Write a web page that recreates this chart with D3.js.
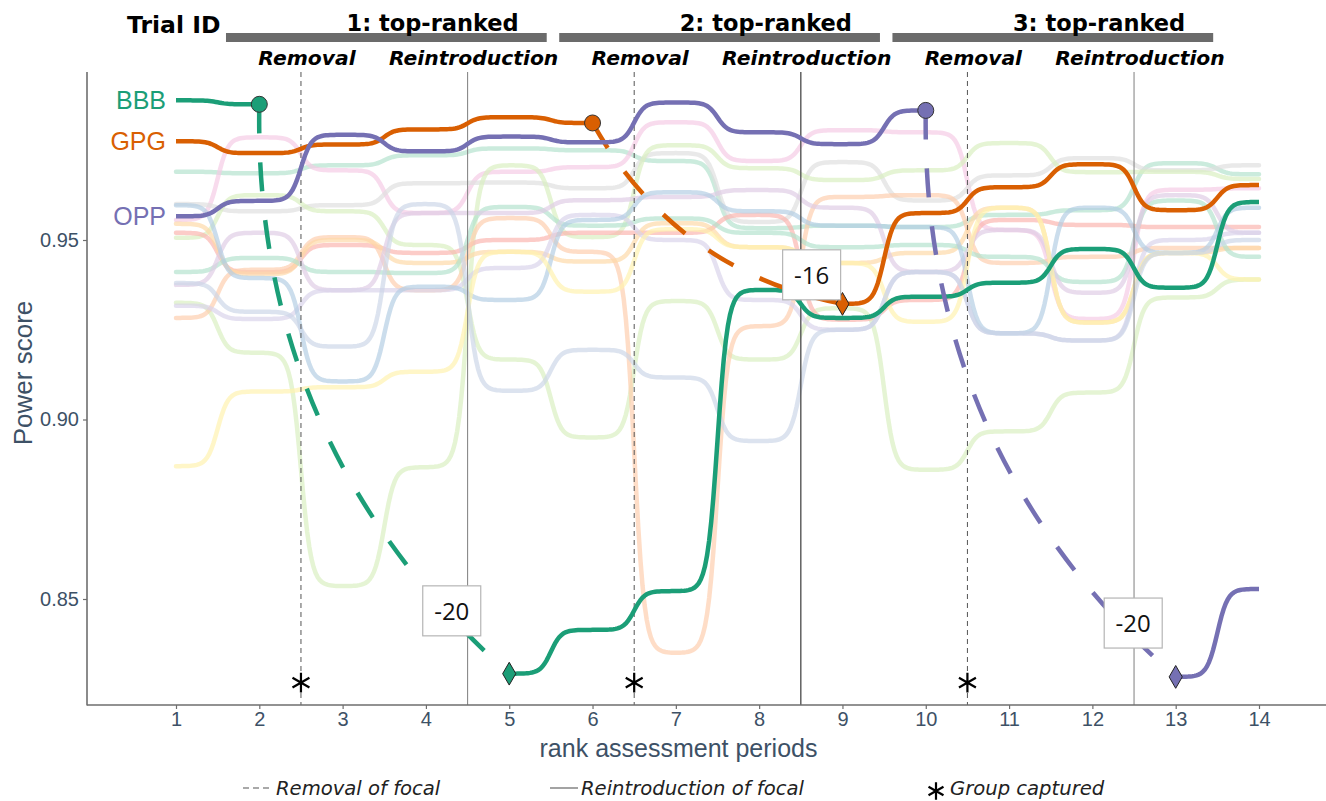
<!DOCTYPE html>
<html>
<head>
<meta charset="utf-8">
<script src="https://cdn.jsdelivr.net/npm/d3@7"></script>
<style>
  html, body { margin: 0; padding: 0; background: #fff; }
  svg { display: block; }
</style>
</head>
<body>
<svg id="chart" width="1326" height="801"></svg>
<script>
// ---- data -------------------------------------------------------------
const periods = d3.range(1, 15);
const yTicks = [0.85, 0.90, 0.95];

// focal groups (null = group absent while removed)
const focalNames = ["BBB", "GPG", "OPP"];
const focalColors = ["#1b9e77", "#d95f02", "#7570b3"];
const bbbScores = [0.9889, 0.9878, null, null, 0.8292, 0.8414, 0.8522, 0.9361, 0.9283, 0.9342, 0.9381, 0.9475, 0.9367, 0.9606];
const gpgScores = [0.9775, 0.9742, 0.9766, 0.9808, 0.9842, 0.9826, null, null, 0.9322, 0.9575, 0.9647, 0.9711, 0.9583, 0.9653];
const oppScores = [0.9566, 0.9609, 0.9793, 0.9747, 0.9788, 0.9772, 0.9883, 0.9800, 0.9767, 0.9861, null, null, 0.8283, 0.8528];
const removedAt = [2, 6, 10];
const returnedAt = [5, 9, 13];
const rankDrops = ["-20", "-16", "-20"];
const rankDropX = [4.31, 8.63, 12.49];
const rankDropY = [0.8467, 0.9403, 0.8433];

// trials: focal removed / reintroduced between periods
const trialTitles = ["1: top-ranked", "2: top-ranked", "3: top-ranked"];
const removalTimes = [2.5, 6.5, 10.5];
const reintroTimes = [4.5, 8.5, 12.5];
const captureTimes = [2.5, 6.5, 10.5];
const captureScore = 0.8267;

// other groups
const otherColors = ["#b3e2cd", "#f4cae4", "#dedede", "#d9efbf", "#d9efbf", "#fbb4ae", "#fdcdac",
                     "#fed9a6", "#b3e2cd", "#decbe4", "#d9d3ea", "#b3cde3", "#fff2ae", "#cbd5e8"];
const teal     = [0.9690, 0.9686, 0.9708, 0.9736, 0.9755, 0.9750, 0.9720, 0.9533, 0.9540, 0.9536, 0.9570, 0.9583, 0.9714, 0.9683];
const pink     = [0.9556, 0.9786, 0.9694, 0.9575, 0.9690, 0.9703, 0.9828, 0.9720, 0.9806, 0.9800, 0.9528, 0.9280, 0.9640, 0.9644];
const gray     = [0.9600, 0.9580, 0.9597, 0.9658, 0.9660, 0.9644, 0.9742, 0.9550, 0.9717, 0.9610, 0.9680, 0.9728, 0.9694, 0.9708];
const green1   = [0.9325, 0.9186, 0.8536, 0.8867, 0.9708, 0.9508, 0.9764, 0.9700, 0.9667, 0.9694, 0.9770, 0.9689, 0.9690, 0.9670];
const green2   = [0.9506, 0.9625, 0.9580, 0.9486, 0.9167, 0.8950, 0.9330, 0.9167, 0.9310, 0.8860, 0.8967, 0.9075, 0.9340, 0.9390];
const salmon   = [0.9520, 0.9410, 0.9486, 0.9464, 0.9500, 0.9520, 0.9520, 0.9570, 0.9278, 0.9333, 0.9556, 0.9542, 0.9536, 0.9536];
const peach    = [0.9283, 0.9417, 0.9508, 0.9360, 0.9561, 0.9467, 0.8350, 0.9260, 0.9620, 0.9625, 0.9436, 0.9453, 0.9478, 0.9478];
const orange   = [0.9545, 0.9405, 0.9500, 0.9436, 0.9467, 0.9440, 0.9547, 0.9480, 0.9436, 0.9464, 0.9590, 0.9270, 0.9464, 0.9478];
const mint     = [0.9411, 0.9450, 0.9411, 0.9408, 0.9592, 0.9540, 0.9560, 0.9520, 0.9480, 0.9486, 0.9453, 0.9383, 0.9610, 0.9453];
const lavender = [0.9375, 0.9520, 0.9360, 0.9575, 0.9575, 0.9611, 0.9620, 0.9639, 0.9590, 0.9411, 0.9528, 0.9353, 0.9625, 0.9520];
const lilac    = [0.9317, 0.9280, 0.9360, 0.9360, 0.9422, 0.9570, 0.9500, 0.9333, 0.9250, 0.9411, 0.9240, 0.9220, 0.9500, 0.9520];
const blue     = [0.9597, 0.9394, 0.9106, 0.9370, 0.9333, 0.9556, 0.9633, 0.9580, 0.9540, 0.9536, 0.9240, 0.9590, 0.9464, 0.9590];
const yellow   = [0.8870, 0.9078, 0.9090, 0.9133, 0.9467, 0.9356, 0.9530, 0.9480, 0.9436, 0.9272, 0.9590, 0.9270, 0.9464, 0.9390];
const periwinkle = [0.9380, 0.9300, 0.9203, 0.9600, 0.9080, 0.9194, 0.9117, 0.8940, 0.9250, 0.9411, 0.9240, 0.9220, 0.9464, 0.9500];
const otherScores = [teal, pink, gray, green1, green2, salmon, peach, orange, mint, lavender, lilac, blue, yellow, periwinkle];

// ---- layout -----------------------------------------------------------
const svg = d3.select("#chart");
const panel = { left: 87, right: 1326, top: 72, bottom: 705 };
const x = d3.scaleLinear().domain([1, 14]).range([176, 1259]);
const y = d3.scaleLinear().domain([0.85, 0.95]).range([599, 240]);
const inkBlue = "#3d5166";

// smooth rank-bump curve between consecutive periods
const K = 16;
const s0 = 1 / (1 + Math.exp(K / 2));
function sig(u) { return (1 / (1 + Math.exp(-K * (u - 0.5))) - s0) / (1 - 2 * s0); }
function bumpPoints(vals, from, to) {
  const pts = [];
  for (let p = from; p < to; p++) {
    const a = vals[p - 1], b = vals[p];
    for (let j = 0; j < 40; j++) {
      const u = j / 40;
      pts.push([p + u, a + (b - a) * sig(u)]);
    }
  }
  pts.push([to, vals[to - 1]]);
  return pts;
}
const line = d3.line().x(d => x(d[0])).y(d => y(d[1]));

// ---- other groups -------------------------------------------------------
const gOther = svg.append("g");
otherScores.forEach((vals, i) => {
  gOther.append("path")
    .attr("d", line(bumpPoints(vals, 1, 14)))
    .attr("fill", "none")
    .attr("stroke", otherColors[i])
    .attr("stroke-opacity", 0.68)
    .attr("stroke-width", 4.5)
    .attr("stroke-linecap", "round");
});

// ---- removal / reintroduction markers ------------------------------------
const gRef = svg.append("g");
removalTimes.forEach(t => {
  gRef.append("line")
    .attr("x1", x(t)).attr("x2", x(t))
    .attr("y1", panel.top).attr("y2", panel.bottom)
    .attr("stroke", "#555").attr("stroke-width", 1)
    .attr("stroke-dasharray", "5,4");
});
reintroTimes.forEach((t, i) => {
  gRef.append("line")
    .attr("x1", x(t)).attr("x2", x(t))
    .attr("y1", panel.top).attr("y2", panel.bottom)
    .attr("stroke", i === 1 ? "#555" : "#8a8a8a")
    .attr("stroke-width", i === 1 ? 1.4 : 1.1);
});

// ---- focal groups -------------------------------------------------------
const focalScores = [bbbScores, gpgScores, oppScores];
const gFocal = svg.append("g");
focalScores.forEach((vals, i) => {
  const col = focalColors[i];
  const r0 = removedAt[i], r1 = returnedAt[i];
  // present before removal
  gFocal.append("path")
    .attr("d", line(bumpPoints(vals, 1, r0)))
    .attr("fill", "none").attr("stroke", col).attr("stroke-width", 4.5);
  // present after reintroduction
  if (r1 < 14) {
    gFocal.append("path")
      .attr("d", line(bumpPoints(vals, r1, 14)))
      .attr("fill", "none").attr("stroke", col).attr("stroke-width", 4.5);
  }
  // change in standing while absent
  const x0 = x(r0), y0 = y(vals[r0 - 1]);
  const x1 = x(r1), y1 = y(vals[r1 - 1]);
  const dx = x1 - x0, dy = y1 - y0;
  const cx = (x0 + x1) / 2 - 0.23 * dy, cy = (y0 + y1) / 2 + 0.23 * dx;
  gFocal.append("path")
    .attr("d", `M${x0},${y0}Q${cx},${cy} ${x1},${y1}`)
    .attr("fill", "none").attr("stroke", col).attr("stroke-width", 4.5)
    .attr("stroke-dasharray", "29,29");
});

// rank-change labels
const gLab = svg.append("g");
rankDrops.forEach((txt, i) => {
  const cx = x(rankDropX[i]), cy = y(rankDropY[i]);
  gLab.append("rect")
    .attr("x", cx - 29).attr("y", cy - 25)
    .attr("width", 58).attr("height", 50)
    .attr("fill", "#fff").attr("stroke", "#b5b5b5").attr("stroke-width", 1.2);
  gLab.append("text")
    .attr("x", cx).attr("y", cy + 9)
    .attr("text-anchor", "middle")
    .attr("font-family", "'Open Sans', sans-serif")
    .attr("font-size", 24).attr("fill", "#111")
    .text(txt);
});

// removal (circle) and return (diamond) points
focalScores.forEach((vals, i) => {
  const col = focalColors[i];
  gFocal.append("circle")
    .attr("cx", x(removedAt[i])).attr("cy", y(vals[removedAt[i] - 1]))
    .attr("r", 8).attr("fill", col).attr("stroke", "#333").attr("stroke-width", 1);
  gFocal.append("path")
    .attr("transform", `translate(${x(returnedAt[i])},${y(vals[returnedAt[i] - 1])})`)
    .attr("d", d3.symbol(d3.symbolDiamond, 150)())
    .attr("fill", col).attr("stroke", "#222").attr("stroke-width", 1);
  gFocal.append("text")
    .attr("x", 166).attr("y", y(vals[0]))
    .attr("dy", "0.36em")
    .attr("text-anchor", "end")
    .attr("font-family", "'Liberation Sans', Arial, sans-serif")
    .attr("font-size", 25).attr("fill", col)
    .text(focalNames[i]);
});

// group captured
captureTimes.forEach(t => {
  svg.append("path")
    .attr("transform", `translate(${x(t)},${y(captureScore)})`)
    .attr("d", d3.symbol(d3.symbolAsterisk, 270)())
    .attr("fill", "none").attr("stroke", "#000").attr("stroke-width", 2.2);
});

// ---- axes -----------------------------------------------------------------
const axisCol = "#6e6e6e";
svg.append("line").attr("x1", panel.left).attr("x2", panel.left)
  .attr("y1", panel.top).attr("y2", panel.bottom + 0.5)
  .attr("stroke", axisCol).attr("stroke-width", 1.6);
svg.append("line").attr("x1", panel.left).attr("x2", panel.right)
  .attr("y1", panel.bottom).attr("y2", panel.bottom)
  .attr("stroke", axisCol).attr("stroke-width", 1.6);

const xAxis = svg.append("g")
  .attr("transform", `translate(0,${panel.bottom})`)
  .call(d3.axisBottom(x).tickValues(periods).tickSize(4).tickPadding(3));
const yAxis = svg.append("g")
  .attr("transform", `translate(${panel.left},0)`)
  .call(d3.axisLeft(y).tickValues(yTicks).tickFormat(d3.format(".2f")).tickSize(4).tickPadding(4));
[xAxis, yAxis].forEach(a => {
  a.select(".domain").remove();
  a.selectAll(".tick line").attr("stroke", axisCol).attr("stroke-width", 1.2);
  a.selectAll(".tick text")
    .attr("font-family", "'Liberation Sans', Arial, sans-serif")
    .attr("font-size", 20).attr("fill", inkBlue);
});

svg.append("text")
  .attr("x", (panel.left + panel.right) / 2 - 28).attr("y", 757)
  .attr("text-anchor", "middle")
  .attr("font-family", "'Liberation Sans', Arial, sans-serif")
  .attr("font-size", 25).attr("fill", inkBlue)
  .text("rank assessment periods");
svg.append("text")
  .attr("transform", "translate(32,373) rotate(-90)")
  .attr("text-anchor", "middle")
  .attr("font-family", "'Liberation Sans', Arial, sans-serif")
  .attr("font-size", 26).attr("fill", inkBlue)
  .text("Power score");

// ---- trial header ---------------------------------------------------------
const hdrFont = "'DejaVu Sans', Verdana, sans-serif";
svg.append("text")
  .attr("x", 127).attr("y", 33)
  .attr("font-family", hdrFont).attr("font-weight", "bold")
  .attr("font-size", 23.5).attr("fill", "#000")
  .text("Trial ID");
trialTitles.forEach((title, i) => {
  const a = x(removalTimes[i] - 0.9), b = x(reintroTimes[i] + 0.95);
  svg.append("rect")
    .attr("x", a).attr("y", 33).attr("width", b - a).attr("height", 9)
    .attr("fill", "#6b6b6b");
  svg.append("text")
    .attr("x", x(reintroTimes[i] - 0.42)).attr("y", 31)
    .attr("text-anchor", "middle")
    .attr("font-family", hdrFont).attr("font-weight", "bold")
    .attr("font-size", 22.5).attr("fill", "#000")
    .text(title);
  [["Removal", removalTimes[i]], ["Reintroduction", reintroTimes[i]]].forEach(([lab, t]) => {
    svg.append("text")
      .attr("x", x(t) + 6).attr("y", 65)
      .attr("text-anchor", "middle")
      .attr("font-family", hdrFont).attr("font-weight", "bold").attr("font-style", "italic")
      .attr("font-size", 20.3).attr("fill", "#000")
      .text(lab);
  });
});

// ---- legend ---------------------------------------------------------------
const lg = svg.append("g").attr("font-family", hdrFont).attr("font-style", "italic")
  .attr("font-size", 19.6).attr("fill", "#222");
lg.append("line").attr("x1", 243).attr("x2", 273).attr("y1", 788).attr("y2", 788)
  .attr("stroke", "#555").attr("stroke-width", 1.2).attr("stroke-dasharray", "6,4");
lg.append("text").attr("x", 276).attr("y", 795).text("Removal of focal");
lg.append("line").attr("x1", 550).attr("x2", 578).attr("y1", 788).attr("y2", 788)
  .attr("stroke", "#666").attr("stroke-width", 1.2);
lg.append("text").attr("x", 581).attr("y", 795).text("Reintroduction of focal");
lg.append("path").attr("transform", "translate(936,791)")
  .attr("d", d3.symbol(d3.symbolAsterisk, 210)())
  .attr("fill", "none").attr("stroke", "#000").attr("stroke-width", 2.2);
lg.append("text").attr("x", 950).attr("y", 795).text("Group captured");
</script>
</body>
</html>
